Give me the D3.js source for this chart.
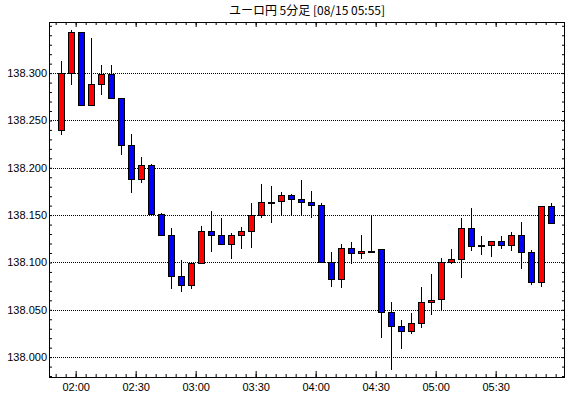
<!DOCTYPE html>
<meta charset="utf-8">
<style>
  body { margin: 0; background: #fff; }
  text { font-family: "Liberation Sans", Arial, sans-serif; }
</style>

<!-- Load d3.js -->
<script src="https://d3js.org/d3.v7.min.js"></script>

<!-- Create a div where the graph will take place -->
<div id="my_dataviz"></div>

<script>

// 5 minute bars, EUR/JPY
var times = ["01:50","01:55","02:00","02:05","02:10","02:15","02:20","02:25","02:30","02:35",
             "02:40","02:45","02:50","02:55","03:00","03:05","03:10","03:15","03:20","03:25",
             "03:30","03:35","03:40","03:45","03:50","03:55","04:00","04:05","04:10","04:15",
             "04:20","04:25","04:30","04:35","04:40","04:45","04:50","04:55","05:00","05:05",
             "05:10","05:15","05:20","05:25","05:30","05:35","05:40","05:45","05:50","05:55"];

var open = [138.240,138.300,138.343,138.266,138.289,138.299,138.274,138.224,138.188,138.203,
            138.151,138.129,138.086,138.076,138.099,138.133,138.129,138.119,138.129,138.133,
            138.150,138.164,138.165,138.171,138.167,138.164,138.161,138.100,138.082,138.115,
            138.110,138.112,138.114,138.048,138.033,138.028,138.036,138.058,138.061,138.100,
            138.104,138.136,138.118,138.118,138.123,138.118,138.129,138.111,138.079,138.160];

var high = [138.313,138.346,138.343,138.337,138.309,138.309,138.274,138.236,138.211,138.204,
            138.152,138.136,138.103,138.101,138.138,138.154,138.147,138.131,138.137,138.163,
            138.183,138.181,138.174,138.172,138.187,138.176,138.163,138.111,138.119,138.122,
            138.129,138.150,138.114,138.058,138.039,138.047,138.074,138.088,138.105,138.114,
            138.147,138.158,138.128,138.123,138.128,138.132,138.143,138.113,138.160,138.163];

var low = [138.235,138.287,138.265,138.266,138.277,138.274,138.213,138.173,138.184,138.151,
           138.128,138.072,138.069,138.072,138.099,138.111,138.119,138.104,138.114,138.115,
           138.147,138.142,138.150,138.150,138.150,138.147,138.100,138.074,138.073,138.098,
           138.104,138.110,138.020,137.986,138.009,138.024,138.031,138.045,138.050,138.098,
           138.084,138.112,138.108,138.106,138.114,138.112,138.093,138.076,138.074,138.142];

var close = [138.300,138.343,138.266,138.288,138.299,138.274,138.224,138.188,138.203,138.151,
             138.129,138.086,138.076,138.099,138.133,138.129,138.119,138.129,138.133,138.150,
             138.164,138.164,138.171,138.167,138.164,138.161,138.100,138.082,138.115,138.110,
             138.112,138.112,138.048,138.033,138.028,138.036,138.058,138.060,138.100,138.104,
             138.136,138.117,138.118,138.123,138.118,138.129,138.111,138.079,138.160,138.142];

var yTicks = [138.000, 138.050, 138.100, 138.150, 138.200, 138.250, 138.300];
var xTicks = ["02:00", "02:30", "03:00", "03:30", "04:00", "04:30", "05:00", "05:30"];
var title = "ユーロ円 5分足 [08/15 05:55]";

// set the dimensions and margins of the graph
var margin = {top: 22, right: 5, bottom: 21, left: 49},
    width = 570 - margin.left - margin.right,
    height = 398 - margin.top - margin.bottom;

var svg = d3.select("#my_dataviz")
  .append("svg")
    .attr("width", width + margin.left + margin.right)
    .attr("height", height + margin.top + margin.bottom)
  .append("g")
    .attr("transform", "translate(" + margin.left + "," + margin.top + ")");

var parse = d3.timeParse("%H:%M");
var data = times.map(function(t, i) {
  return {t: parse(t), o: open[i], h: high[i], l: low[i], c: close[i]};
});

// X scale: each bar fills its 5 minute slot
var x = d3.scaleTime()
    .domain([new Date(1900, 0, 1, 1, 46, 40), new Date(1900, 0, 1, 6, 4, 40)])
    .range([0, width]);

var y = d3.scaleLinear()
    .domain([137.979, 138.354])
    .range([height, 0]);

// dotted grid lines
svg.selectAll(".grid")
  .data(yTicks)
  .enter()
  .append("line")
    .attr("x1", 0)
    .attr("x2", width)
    .attr("y1", function(d) { return Math.round(y(d)) + 0.5; })
    .attr("y2", function(d) { return Math.round(y(d)) + 0.5; })
    .attr("stroke", "#000")
    .attr("stroke-dasharray", "1,1");

// candles
function cx(d) { return Math.round(x(d3.timeSecond.offset(d.t, 150))) + 0.5; }

var candle = svg.selectAll(".candle")
  .data(data)
  .enter()
  .append("g");

candle.append("line")
    .attr("x1", cx)
    .attr("x2", cx)
    .attr("y1", function(d) { return Math.round(y(d.h)); })
    .attr("y2", function(d) { return Math.round(y(d.l)); })
    .attr("stroke", "#000");

candle.append("rect")
    .attr("x", function(d) { return cx(d) - 3; })
    .attr("width", 6)
    .attr("y", function(d) { return Math.round(y(Math.max(d.o, d.c))) + 0.5; })
    .attr("height", function(d) { return Math.max(1, Math.round(y(Math.min(d.o, d.c))) - Math.round(y(Math.max(d.o, d.c)))); })
    .attr("fill", function(d) { return d.c > d.o ? "#ff0000" : (d.c < d.o ? "#0000ff" : "#000"); })
    .attr("stroke", "#000");

// frame and ticks
function styleAxis(g) {
  g.select(".domain").remove();
  g.selectAll("line").attr("stroke", "#000");
}

var every5 = d3.timeMinute.every(5);
var majors = xTicks.map(parse);

svg.append("g")
    .attr("transform", "translate(0," + height + ")")
    .call(d3.axisBottom(x).ticks(every5).tickSize(-3).tickFormat(""))
    .call(styleAxis);

svg.append("g")
    .attr("transform", "translate(0," + height + ")")
    .call(d3.axisBottom(x).tickValues(majors).tickSize(-6).tickPadding(6).tickFormat(d3.timeFormat("%H:%M")))
    .call(styleAxis)
    .selectAll("text")
      .attr("fill", "#000")
      .style("font-family", "'Liberation Sans Narrow', 'Liberation Sans', sans-serif")
      .style("font-size", "11px");

svg.append("g")
    .call(d3.axisTop(x).ticks(every5).tickSize(-3).tickFormat(""))
    .call(styleAxis);

svg.append("g")
    .call(d3.axisTop(x).tickValues(majors).tickSize(-5).tickFormat(""))
    .call(styleAxis);

var yMinor = d3.range(0, 38).map(function(i) { return 137.98 + i * 0.01; });

svg.append("g")
    .call(d3.axisLeft(y).tickValues(yMinor).tickSize(-3).tickFormat(""))
    .call(styleAxis);

svg.append("g")
    .attr("transform", "translate(" + width + ",0)")
    .call(d3.axisRight(y).tickValues(yMinor).tickSize(-3).tickFormat(""))
    .call(styleAxis);

svg.append("g")
    .call(d3.axisLeft(y).tickValues(yTicks).tickSize(0).tickPadding(2).tickFormat(d3.format(".3f")))
    .call(styleAxis)
    .selectAll("text")
      .attr("fill", "#000")
      .style("font-size", "11px");

svg.append("rect")
    .attr("x", 0.5)
    .attr("y", 0.5)
    .attr("width", width - 1)
    .attr("height", height)
    .attr("fill", "none")
    .attr("stroke", "#000");

// set title
svg.append("text")
    .attr("x", width / 2)
    .attr("y", -7)
    .attr("text-anchor", "middle")
    .style("font-family", "'Noto Sans CJK JP', sans-serif")
    .style("font-size", "12px")
    .text(title);

</script>
